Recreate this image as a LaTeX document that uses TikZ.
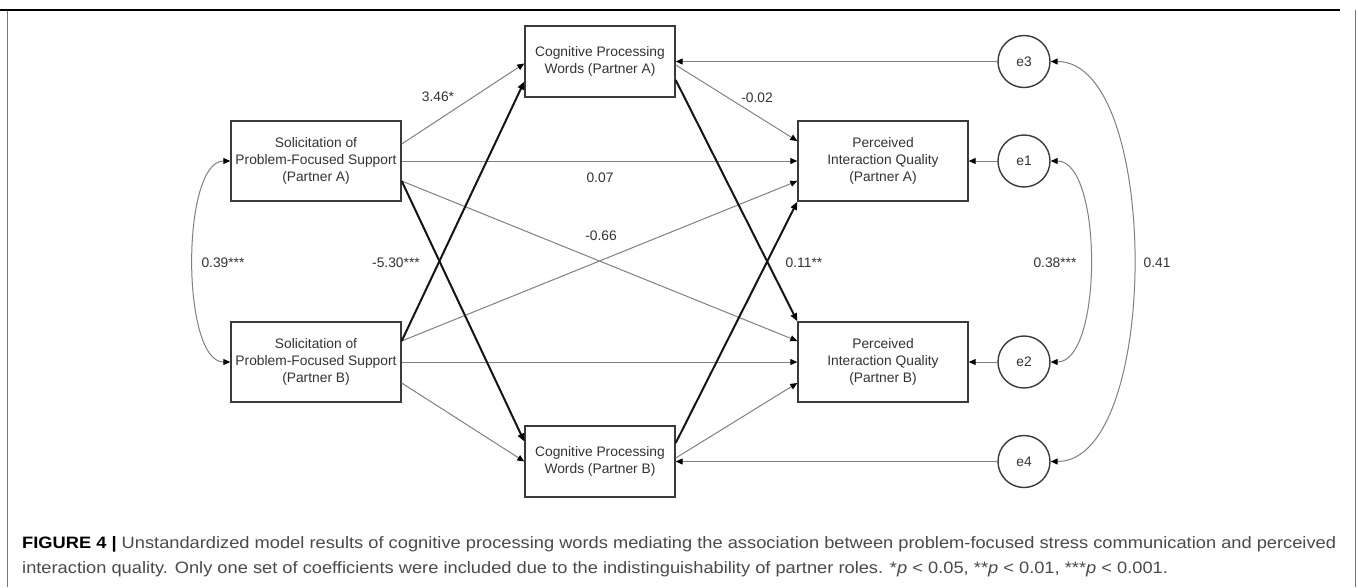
\documentclass[tikz,border=0pt]{standalone}
\usepackage{fontspec}
\setmainfont{Liberation Sans}
\usepackage{graphicx}
\usetikzlibrary{arrows.meta}
\definecolor{txt}{HTML}{333333}
\definecolor{boxc}{HTML}{3A3A3A}
\definecolor{thinc}{HTML}{808080}
\definecolor{thickc}{HTML}{151515}
\definecolor{capc}{HTML}{4A4A4A}
\definecolor{framec}{HTML}{777777}
\newcommand\diafont{\fontsize{13.8}{17.4}\selectfont}
\newcommand\capfont{\fontsize{16.5}{19}\selectfont}
\newsavebox\capboxA
\begin{document}
\begin{tikzpicture}[x=1pt,y=-1pt,
  box/.style={draw=boxc, line width=1.4pt, fill=white, minimum width=170pt, minimum height=80pt, align=center, font=\diafont, text=txt, inner sep=0pt},
  cbox/.style={box, minimum width=150pt, minimum height=71pt},
  err/.style={circle, draw=boxc, line width=1.4pt, fill=white, minimum size=52pt, inner sep=0pt, font=\diafont, text=txt},
  thinarr/.style={draw=thinc, line width=1pt, -{Triangle[length=7pt,width=6pt,color=black]}},
  thickarr/.style={draw=thickc, line width=2pt, -{Triangle[length=8pt,width=6.5pt,color=black]}},
  botharr/.style={draw=thinc, line width=1pt, {Triangle[length=7pt,width=6pt,color=black]}-{Triangle[length=7pt,width=6pt,color=black]}},
  lab/.style={font=\diafont, text=txt, inner sep=0pt}]
\useasboundingbox (0,0) rectangle (1358,587);
\fill[white] (0,0) rectangle (1358,587);
% frame
\draw[framec, line width=1pt] (7,10) -- (7,587);
\draw[framec, line width=1pt] (1355,10) -- (1355,587);
\draw[black, line width=2pt] (0,9.5) -- (1340,9.5);

% nodes
\node[box] (SA) at (316,161) {Solicitation of\\Problem-Focused Support\\(Partner A)};
\node[box] (SB) at (316,362) {Solicitation of\\Problem-Focused Support\\(Partner B)};
\node[cbox] (CA) at (600,61.5) {Cognitive Processing\\Words (Partner A)};
\node[cbox] (CB) at (600,461.5) {Cognitive Processing\\Words (Partner B)};
\node[box] (PA) at (883,161) {Perceived\\Interaction Quality\\(Partner A)};
\node[box] (PB) at (883,362) {Perceived\\Interaction Quality\\(Partner B)};
\node[err] (e3) at (1024,61.5) {e3};
\node[err] (e1) at (1024,161) {e1};
\node[err] (e2) at (1024,362) {e2};
\node[err] (e4) at (1024,461.5) {e4};

% thin paths
\draw[thinarr] ([yshift=17pt]SA.east) -- ([yshift=-2pt]CA.west);
\draw[thinarr] ([yshift=-21pt]SB.east) -- ([yshift=0pt]CB.west);
\draw[thinarr] (SA.east) -- (PA.west);
\draw[thinarr] (SB.east) -- (PB.west);
\draw[thinarr] ([yshift=-20pt]SA.east) -- ([yshift=21pt]PB.west);
\draw[thinarr] ([yshift=21pt]SB.east) -- ([yshift=-20pt]PA.west);
\draw[thinarr] ([yshift=-3.5pt]CA.east) -- ([yshift=20pt]PA.west);
\draw[thinarr] ([yshift=3.5pt]CB.east) -- ([yshift=-21pt]PB.west);
% thick paths
\draw[thickarr] ([yshift=21pt]SB.east) -- ([yshift=-20pt]CA.west);
\draw[thickarr] ([yshift=-20pt]SA.east) -- ([yshift=20pt]CB.west);
\draw[thickarr] ([yshift=-18.5pt]CA.east) -- (PB.north west);
\draw[thickarr] ([yshift=18.5pt]CB.east) -- (PA.south west);
% error terms
\draw[thinarr] (e1) -- (PA);
\draw[thinarr] (e2) -- (PB);
\draw[thinarr] (e3) -- (CA);
\draw[thinarr] (e4) -- (CB);
% covariances
\draw[botharr] (SA.west) .. controls (181,161) and (181,362) .. (SB.west);
\draw[botharr] (e1.east) .. controls (1103,161) and (1103,362) .. (e2.east);
\draw[botharr] (e3.east) .. controls (1161,61.5) and (1161,461.5) .. (e4.east);

% labels
\node[lab] (l1) at (438,97) {3.46*};
\node[lab] (l2) at (757,98) {-0.02};
\node[lab] (l3) at (600,178) {0.07};
\node[lab] (l4) at (601,236) {-0.66};
\node[lab] (l5) at (223,263) {0.39***};
\node[lab] (l6) at (396,263) {-5.30***};
\node[lab] (l7) at (804,263) {0.11**};
\node[lab] (l8) at (1055,263) {0.38***};
\node[lab] (l9) at (1157,263) {0.41};

% caption
\node[anchor=base west, inner sep=0pt] (cap1) at (22,548) {\capfont\sbox\capboxA{\capfont\color{black}\textbf{FIGURE 4 |} \color{capc}Unstandardized model results of cognitive processing words mediating the association between problem-focused stress communication and perceived}\pgfmathsetmacro\capsx{1314/\the\wd\capboxA}\global\let\capsxg\capsx\scalebox{\capsx}[1]{\usebox\capboxA}};
\node[anchor=base west, inner sep=0pt, text=capc] (cap2) at (22,573) {\scalebox{\capsxg}[1]{\capfont interaction quality. Only one set of coefficients were included due to the indistinguishability of partner roles. *\textit{p} < 0.05, **\textit{p} < 0.01, ***\textit{p} < 0.001.}};
\end{tikzpicture}
\end{document}
